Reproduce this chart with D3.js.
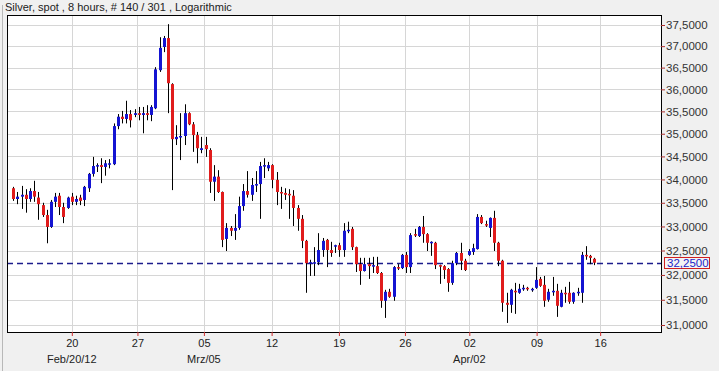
<!DOCTYPE html>
<html>
<head>
<meta charset="utf-8">
<script src="https://cdn.jsdelivr.net/npm/d3@7"></script>
<style>
  body { margin: 0; background: #f0f0f0; }
  text { font-family: "Liberation Sans", Arial, sans-serif; }
</style>
</head>
<body>
<div id="chart-area"></div>
<script>
// 8h silver candles (index 0 = first visible candle)
var candleOpen = [33.81,33.58,33.63,33.67,33.58,33.75,33.61,33.45,33.24,32.99,
  33.52,33.65,33.41,33.39,33.63,33.52,33.61,33.56,33.81,34.12,
  34.29,34.31,34.27,34.33,34.33,35.17,35.38,35.33,35.44,35.42,
  35.46,35.42,35.46,35.42,35.57,36.44,36.98,37.19,36.12,34.88,
  34.93,34.95,35.46,35.21,34.97,34.64,34.75,34.64,33.95,34.06,
  33.73,32.74,32.97,32.91,32.97,33.43,33.75,33.67,33.88,33.90,
  34.29,34.24,34.31,33.99,33.73,33.71,33.69,33.65,33.39,33.16,
  32.70,32.24,32.24,32.26,32.51,32.72,32.51,32.59,32.61,32.51,
  32.91,32.95,32.57,32.22,32.08,32.22,32.18,32.18,32.04,31.48,
  31.66,31.56,32.16,32.14,32.41,32.16,32.84,32.80,32.99,32.84,
  32.66,32.66,32.20,32.18,32.12,31.84,32.24,32.45,32.29,32.41,
  32.47,32.53,33.20,33.05,32.97,33.18,32.66,32.29,31.44,31.40,
  31.68,31.64,31.72,31.74,31.70,31.74,31.92,31.80,31.50,31.66,
  31.68,31.36,31.64,31.64,31.46,31.64,31.64,32.41,32.39,32.33];
var candleHigh = [33.84,33.73,33.86,33.79,33.81,33.97,33.73,33.50,33.35,33.56,
  33.71,33.71,33.50,33.63,33.71,33.65,33.67,33.86,34.14,34.49,
  34.35,34.46,34.42,34.44,35.23,35.44,35.51,35.74,35.53,35.55,
  35.60,35.60,35.64,35.64,36.51,37.21,37.24,37.52,36.14,35.19,
  35.46,35.66,35.48,35.26,35.04,34.93,34.93,34.68,34.31,34.20,
  33.74,33.07,33.01,33.26,33.63,33.90,34.18,34.03,34.18,34.38,
  34.46,34.38,34.33,34.16,33.84,33.81,33.79,33.77,33.45,33.24,
  32.72,32.31,32.57,32.86,32.76,32.74,32.68,32.62,32.66,33.07,
  33.10,32.99,32.58,32.35,32.35,32.35,32.37,32.37,32.06,31.70,
  31.72,32.18,32.22,32.43,32.47,32.86,32.95,33.01,33.22,32.86,
  32.69,32.68,32.21,32.20,32.14,32.29,32.47,32.66,32.33,32.53,
  32.64,33.26,33.24,33.12,33.19,33.33,32.68,32.31,31.64,31.72,
  31.84,31.82,31.80,31.76,31.74,32.16,31.96,31.98,31.72,31.96,
  31.82,31.70,31.76,31.86,31.65,31.74,32.47,32.59,32.41,32.35];
var candleLow = [33.54,33.47,33.37,33.29,33.52,33.52,33.14,33.20,32.65,32.97,
  33.41,33.24,33.07,33.37,33.45,33.45,33.45,33.43,33.73,34.06,
  34.16,33.92,34.08,34.24,34.31,35.10,35.23,35.23,35.14,35.37,
  35.30,35.01,35.30,35.28,35.55,36.40,36.86,35.46,33.77,34.75,
  34.42,34.75,35.19,34.60,34.35,34.57,34.49,33.71,33.54,33.71,
  32.57,32.49,32.80,32.72,32.93,33.33,33.61,33.54,33.73,33.16,
  34.03,34.18,33.81,33.45,33.37,33.56,33.16,33.01,32.91,32.55,
  31.64,31.98,31.98,32.20,32.37,32.16,32.37,32.45,32.37,32.37,
  32.86,32.51,32.06,31.80,32.07,31.92,32.04,32.02,31.34,31.14,
  31.54,31.48,32.10,32.12,32.04,32.04,32.78,32.78,32.66,32.49,
  32.39,32.12,31.82,31.92,31.66,31.80,32.20,32.10,32.08,32.39,
  32.41,32.52,33.05,32.99,32.78,32.49,32.18,31.26,31.04,31.24,
  31.22,31.62,31.68,31.68,31.66,31.72,31.76,31.36,31.46,31.58,
  31.16,31.35,31.44,31.42,31.42,31.58,31.44,32.31,32.22,32.20];
var candleClose = [33.58,33.63,33.67,33.58,33.75,33.63,33.47,33.24,32.99,33.52,
  33.63,33.41,33.20,33.61,33.52,33.58,33.54,33.84,34.12,34.29,
  34.31,34.27,34.35,34.35,35.17,35.38,35.33,35.44,35.30,35.46,
  35.42,35.46,35.42,35.60,36.46,36.96,37.19,36.14,34.88,34.93,
  34.95,35.46,35.21,34.97,34.68,34.68,34.66,33.95,34.06,33.73,
  32.72,32.97,32.91,32.97,33.43,33.75,33.67,33.88,33.90,34.29,
  34.31,34.31,33.99,33.73,33.71,33.67,33.67,33.39,33.16,32.70,
  32.24,32.26,32.26,32.51,32.70,32.51,32.45,32.61,32.51,32.91,
  32.93,32.57,32.22,32.08,32.22,32.18,32.20,32.04,31.48,31.66,
  31.56,32.16,32.14,32.41,32.16,32.82,32.82,32.99,32.84,32.66,
  32.68,32.20,32.18,32.10,31.84,32.24,32.45,32.29,32.10,32.49,
  32.55,33.20,33.07,33.03,33.18,32.66,32.29,31.44,31.40,31.70,
  31.66,31.72,31.74,31.72,31.72,31.90,31.78,31.48,31.66,31.68,
  31.38,31.64,31.62,31.46,31.64,31.66,32.41,32.39,32.35,32.25];

var priceTicks = [31, 31.5, 32, 32.5, 33, 33.5, 34, 34.5, 35, 35.5, 36, 36.5, 37, 37.5];
var dateTickIndex = [14, 29.7, 45.6, 61.8, 77.9, 93.7, 109.1, 125.2, 140.4];
var dateTickLabels = ['20', '27', '05', '12', '19', '26', '02', '09', '16'];
var monthLabels = ['Feb/20/12', '', 'Mrz/05', '', '', '', 'Apr/02', '', ''];
var lastPrice = 32.25;
var titleText = 'Silver, spot , 8 hours, # 140 / 301 , Logarithmic';

var W = 719, H = 371;
var plot = { left: 7, right: 662, top: 15, bottom: 333 };

var svg = d3.select('#chart-area').append('svg')
    .attr('width', W).attr('height', H)
    .style('display', 'block');

svg.append('rect').attr('width', W).attr('height', H).attr('fill', '#f0f0f0');
svg.append('line').attr('x1', 2.5).attr('x2', 2.5).attr('y1', 5).attr('y2', H)
    .attr('stroke', '#b8b8b8');

svg.append('text').attr('x', 5).attr('y', 11)
    .attr('font-size', '11px').attr('fill', '#222').text(titleText);

svg.append('rect')
    .attr('x', plot.left).attr('y', plot.top)
    .attr('width', plot.right - plot.left).attr('height', plot.bottom - plot.top)
    .attr('fill', '#fff');

var data = candleOpen.map(function (o, i) {
  return { i: i, o: o, h: candleHigh[i], l: candleLow[i], c: candleClose[i] };
});

var x = d3.scaleLinear().domain([0, 139]).range([13.3, 594.3]);
var y = d3.scaleLog().domain([31, 37.5]).range([325, 25]);

var fmt = function (v) { return d3.format('.4f')(v).replace('.', ','); };

// grid
svg.append('g').selectAll('line').data(priceTicks).enter().append('line')
    .attr('x1', plot.left).attr('x2', plot.right)
    .attr('y1', d => Math.round(y(d)) + 0.5).attr('y2', d => Math.round(y(d)) + 0.5)
    .attr('stroke', '#d6d6d6');
svg.append('g').selectAll('line').data(dateTickIndex).enter().append('line')
    .attr('x1', d => Math.round(x(d)) + 0.5).attr('x2', d => Math.round(x(d)) + 0.5)
    .attr('y1', plot.top).attr('y2', plot.bottom)
    .attr('stroke', '#d6d6d6');

// last price line
svg.append('line')
    .attr('x1', plot.left).attr('x2', plot.right)
    .attr('y1', Math.round(y(lastPrice)) + 0.5).attr('y2', Math.round(y(lastPrice)) + 0.5)
    .attr('stroke', '#1c1c8c').attr('stroke-width', 1.3)
    .attr('stroke-dasharray', '6,4');

// candles
var candles = svg.append('g').selectAll('g').data(data).enter().append('g');
candles.append('line')
    .attr('x1', d => Math.round(x(d.i)) + 0.5).attr('x2', d => Math.round(x(d.i)) + 0.5)
    .attr('y1', d => y(d.h)).attr('y2', d => y(d.l))
    .attr('stroke', '#000').attr('stroke-width', 1);
candles.append('rect')
    .attr('x', d => Math.round(x(d.i)) - 1)
    .attr('width', 3)
    .attr('y', d => y(Math.max(d.o, d.c)))
    .attr('height', d => Math.max(1.5, y(Math.min(d.o, d.c)) - y(Math.max(d.o, d.c))))
    .attr('fill', d => d.c >= d.o ? '#1414d2' : '#e01c1c');

// frame
svg.append('rect')
    .attr('x', plot.left + 0.5).attr('y', plot.top + 0.5)
    .attr('width', plot.right - plot.left - 1).attr('height', plot.bottom - plot.top - 1)
    .attr('fill', 'none').attr('stroke', '#000');

// right axis
var yAxis = d3.axisRight(y).tickValues(priceTicks).tickSize(4).tickPadding(1).tickFormat(fmt);
var ya = svg.append('g').attr('transform', 'translate(' + (plot.right - 1) + ',0)').call(yAxis);
ya.select('.domain').remove();
ya.selectAll('line').attr('stroke', '#b03030');
ya.selectAll('text').attr('font-size', '11.5px').attr('fill', '#333')
    .attr('font-family', '"Liberation Sans", Arial, sans-serif');

// bottom axis
var xAxis = d3.axisBottom(x).tickValues(dateTickIndex).tickSize(4).tickPadding(3)
    .tickFormat((d, i) => dateTickLabels[i]);
var xa = svg.append('g').attr('transform', 'translate(0,' + (plot.bottom - 1) + ')').call(xAxis);
xa.select('.domain').remove();
xa.selectAll('line').attr('stroke', '#d03030');
xa.selectAll('text').attr('font-size', '11px').attr('fill', '#222')
    .attr('font-family', '"Liberation Sans", Arial, sans-serif');

svg.append('g').selectAll('text').data(dateTickIndex).enter().append('text')
    .attr('x', d => x(d)).attr('y', 363)
    .attr('text-anchor', 'middle').attr('font-size', '11px').attr('fill', '#222')
    .text((d, i) => monthLabels[i]);

// last price box
var ly = y(lastPrice);
svg.append('rect')
    .attr('x', 664.5).attr('y', Math.round(ly) - 5.5)
    .attr('width', 45).attr('height', 11)
    .attr('fill', '#f4f4f4').attr('stroke', '#d02020');
svg.append('text')
    .attr('x', 667).attr('y', ly).attr('dy', '0.35em')
    .attr('font-size', '11.5px').attr('fill', '#1c1cc8')
    .text(fmt(lastPrice));
</script>
</body>
</html>
